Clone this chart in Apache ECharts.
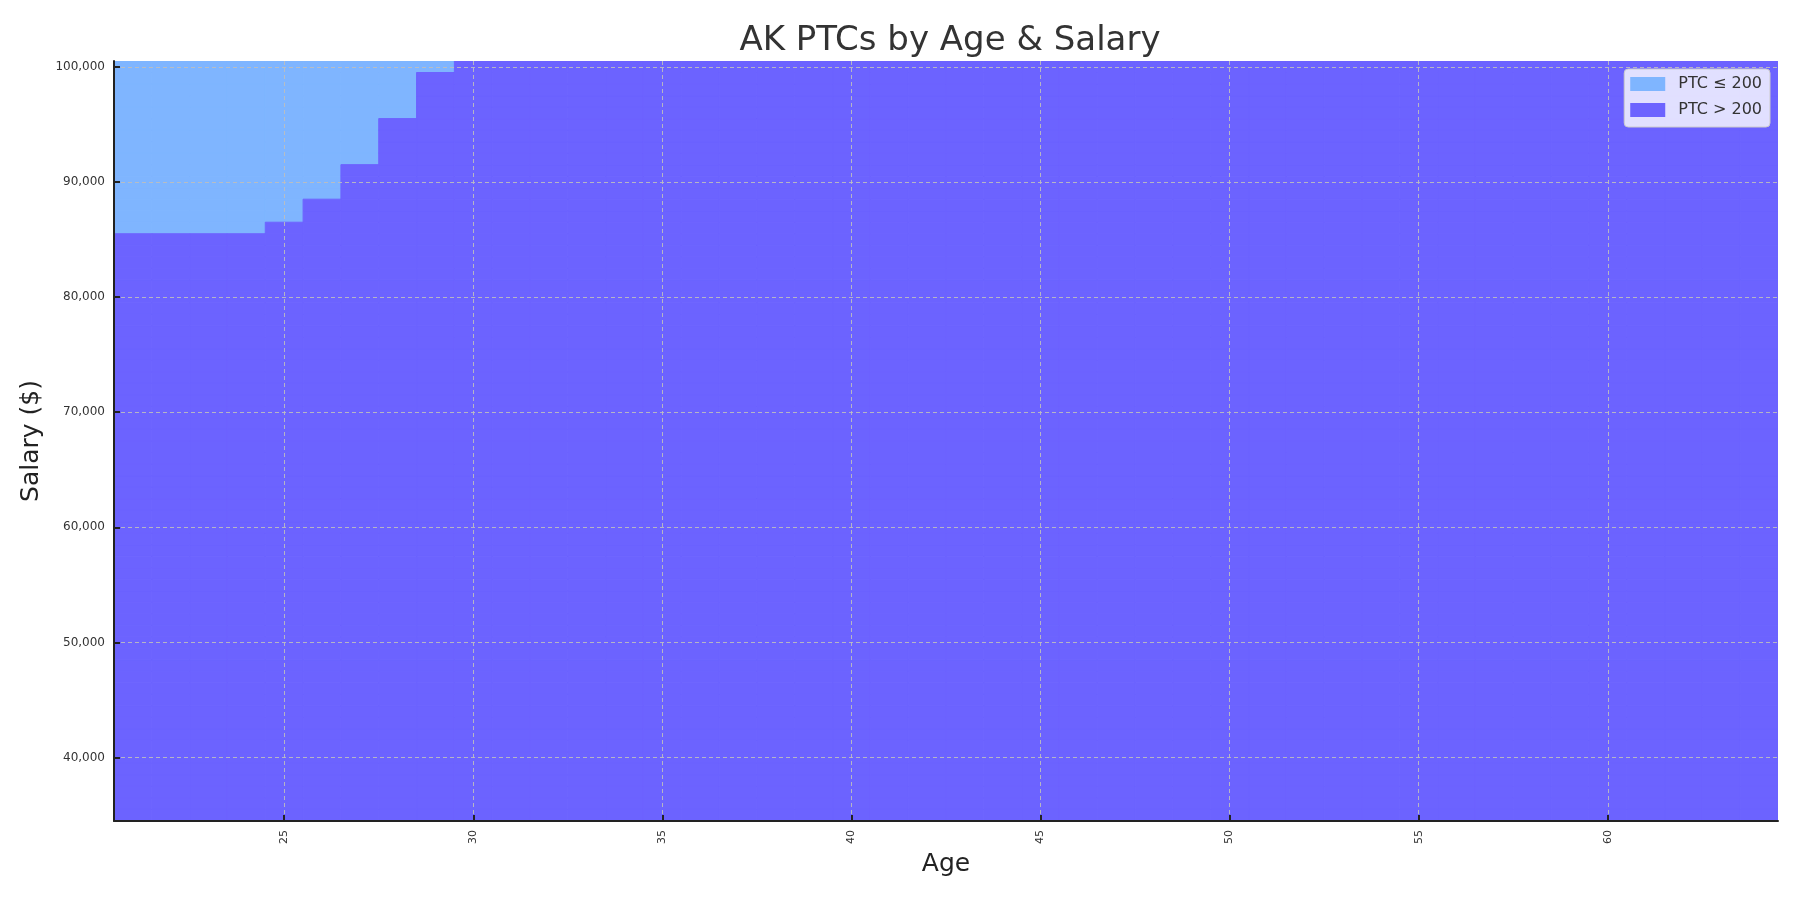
<!DOCTYPE html>
<html>
<head>
<meta charset="utf-8">
<script src="https://cdn.jsdelivr.net/npm/echarts@6/dist/echarts.min.js"></script>
<style>html,body{margin:0;padding:0;background:#fff}#chart{width:1800px;height:900px}</style>
</head>
<body>
<div id="chart"></div>
<script>
// ---- data ----
const ages = [21,22,23,24,25,26,27,28,29,30,31,32,33,34,35,36,37,38,39,40,41,42,43,44,45,46,47,48,49,50,51,52,53,54,55,56,57,58,59,60,61,62,63,64];
const salaries = [35000,36000,37000,38000,39000,40000,41000,42000,43000,44000,45000,46000,47000,48000,49000,50000,51000,52000,53000,54000,55000,56000,57000,58000,59000,60000,61000,62000,63000,64000,65000,66000,67000,68000,69000,70000,71000,72000,73000,74000,75000,76000,77000,78000,79000,80000,81000,82000,83000,84000,85000,86000,87000,88000,89000,90000,91000,92000,93000,94000,95000,96000,97000,98000,99000,100000];
// lowest salary at which PTC <= 200, per age (ages not listed: none)
const lowPtcAges = [21,22,23,24,25,26,27,28,29];
const lowPtcMinSalary = [86000,86000,86000,86000,87000,89000,92000,96000,100000];
const xTicks = [25,30,35,40,45,50,55,60];
const yTicks = [40000,50000,60000,70000,80000,90000,100000];
const seriesNames = ['PTC \u2264 200', 'PTC > 200'];
const seriesColors = ['#7fb5ff', '#6c63ff'];

// ---- build cells ----
const lowCells = [], highCells = [];
ages.forEach(a => {
  const idx = lowPtcAges.indexOf(a);
  const thr = idx >= 0 ? lowPtcMinSalary[idx] : Infinity;
  salaries.forEach(s => {
    (s >= thr ? lowCells : highCells).push([a, s]);
  });
});

function makeRender(color) {
  return function (params, api) {
    const c = api.coord([api.value(0), api.value(1)]);
    const sz = api.size([1, 1000]);
    return {
      type: 'rect',
      shape: { x: c[0] - sz[0] / 2, y: c[1] - sz[1] / 2, width: sz[0], height: sz[1] },
      style: { fill: color, stroke: color, lineWidth: 1 }
    };
  };
}

const chart = echarts.init(document.getElementById('chart'), null, { renderer: 'canvas' });
const font = 'DejaVu Sans';
chart.setOption({
  backgroundColor: '#ffffff',
  animation: false,
  title: {
    text: 'AK PTCs by Age & Salary',
    left: 945, top: 19, textAlign: 'center',
    textStyle: { fontFamily: font, fontSize: 34, fontWeight: 'normal', color: '#333333' }
  },
  legend: {
    data: seriesNames,
    orient: 'vertical',
    right: 30, top: 69,
    itemWidth: 35, itemHeight: 14, itemGap: 10,
    icon: 'rect',
    padding: [7, 8, 9, 6],
    backgroundColor: 'rgba(255,255,255,0.8)',
    borderColor: '#cccccc', borderWidth: 1, borderRadius: 4,
    textStyle: { fontFamily: font, fontSize: 16, color: '#333333', padding: [0, 0, 0, 8] }
  },
  grid: { left: 114, right: 22, top: 61, bottom: 79, containLabel: false },
  xAxis: {
    type: 'value', min: 20.5, max: 64.5, z: 10,
    name: 'Age', nameLocation: 'middle', nameGap: 31,
    nameTextStyle: { fontFamily: font, fontSize: 25, color: '#222222' },
    axisLine: { show: true, lineStyle: { color: '#222222', width: 2 } },
    axisTick: { show: true, inside: true, length: 6, customValues: xTicks, lineStyle: { color: '#222222', width: 2 } },
    axisLabel: { customValues: xTicks, rotate: 90, margin: 9, fontFamily: font, fontSize: 11, color: '#333333' },
    splitLine: { show: true, lineStyle: { color: 'rgba(190,190,190,0.9)', type: [4, 3], width: 1 } }
  },
  yAxis: {
    type: 'value', min: 34500, max: 100500, z: 10,
    name: 'Salary ($)', nameLocation: 'middle', nameGap: 68, nameRotate: 90,
    nameTextStyle: { fontFamily: font, fontSize: 25, color: '#222222' },
    axisLine: { show: true, lineStyle: { color: '#222222', width: 2 } },
    axisTick: { show: true, inside: true, length: 6, customValues: yTicks, lineStyle: { color: '#222222', width: 2 } },
    axisLabel: {
      customValues: yTicks, margin: 9, fontFamily: font, fontSize: 12, color: '#333333',
      formatter: v => v.toLocaleString('en-US')
    },
    splitLine: { show: true, lineStyle: { color: 'rgba(190,190,190,0.9)', type: [4, 3], width: 1 } }
  },
  series: [
    { name: seriesNames[0], type: 'custom', renderItem: makeRender(seriesColors[0]), data: lowCells,
      itemStyle: { color: seriesColors[0] }, encode: { x: 0, y: 1 }, clip: true, silent: true, z: 2 },
    { name: seriesNames[1], type: 'custom', renderItem: makeRender(seriesColors[1]), data: highCells,
      itemStyle: { color: seriesColors[1] }, encode: { x: 0, y: 1 }, clip: true, silent: true, z: 2 }
  ]
});
</script>
</body>
</html>
